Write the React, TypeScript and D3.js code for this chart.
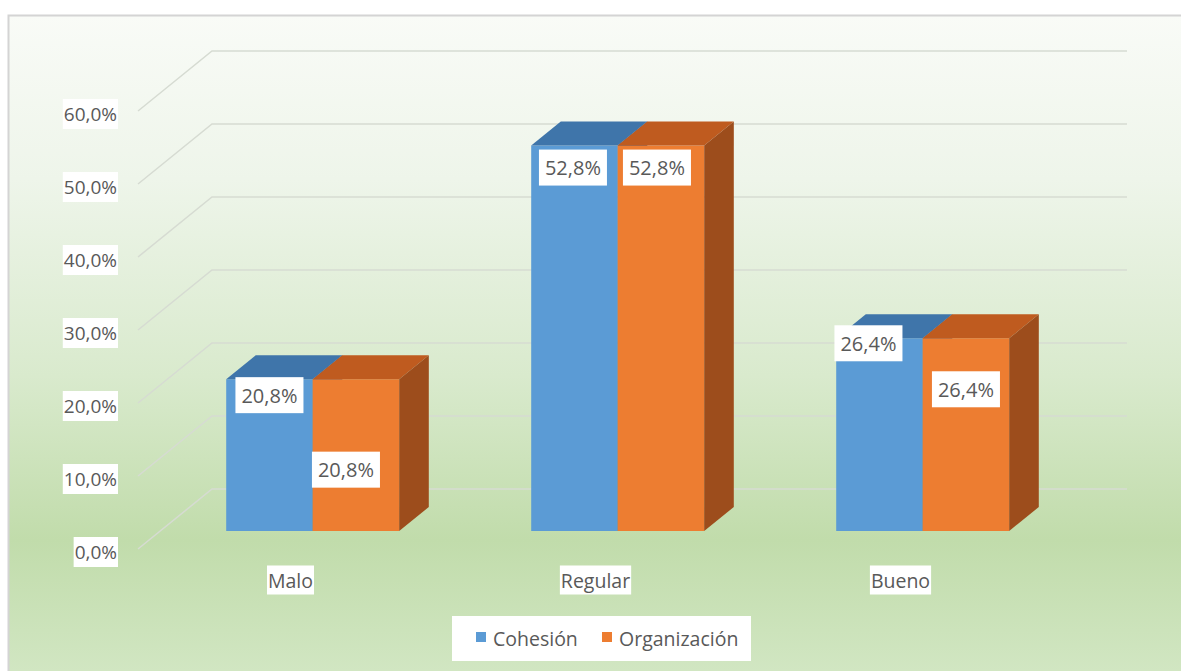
import React, { useEffect, useRef } from "react";
import * as d3 from "d3";

const categories = ["Malo", "Regular", "Bueno"];
const seriesNames = ["Cohesión", "Organización"];
const cohesion = [0.208, 0.528, 0.264];
const organizacion = [0.208, 0.528, 0.264];
const yTicks = [0, 0.1, 0.2, 0.3, 0.4, 0.5, 0.6];
const valueLabels = [["20,8%", "52,8%", "26,4%"], ["20,8%", "52,8%", "26,4%"]];

// layout constants (label nudges as placed in the original)
const labelNudge = [
  [[0, 16], [-1.5, 22], [-11, 5]],
  [[-10, 90.5], [-4, 22], [0, 51]],
];

const W = 1181;
const H = 671;
const FONT = "'Open Sans', 'Noto Sans', sans-serif";
const TEXT = "#595959";
const colors = {
  front: ["#5B9BD5", "#ED7D31"],
  top: ["#3F75AA", "#BF5B1F"],
  side: ["#36679A", "#9D4D1C"],
};

export default function App() {
  const ref = useRef<SVGSVGElement | null>(null);

  useEffect(() => {
    const svg = d3.select(ref.current);
    svg.selectAll("*").remove();

    const defs = svg.append("defs");
    const grad = defs
      .append("linearGradient")
      .attr("id", "bg")
      .attr("gradientUnits", "userSpaceOnUse")
      .attr("x1", 0).attr("y1", 15).attr("x2", 0).attr("y2", 671);
    [
      [0, "#f9fbf7"],
      [0.25, "#eef5ea"],
      [0.55, "#d9eacd"],
      [0.8, "#c1dcab"],
      [1, "#d1e6c2"],
    ].forEach(([o, c]) => grad.append("stop").attr("offset", o as number).attr("stop-color", c as string));

    svg.append("rect")
      .attr("x", 8.5).attr("y", 15.5).attr("width", W + 20).attr("height", H + 20)
      .attr("fill", "url(#bg)").attr("stroke", "#d4d4d4").attr("stroke-width", 2);

    // 3D projection
    const DX = 74, DY = -60;
    const x = d3.scaleBand<string>().domain(categories).range([138, 1053]).paddingInner(0).paddingOuter(0);
    const xs = d3.scaleBand<string>().domain(seriesNames).range([0, x.bandwidth()]).paddingInner(0).paddingOuter(0.763);
    const y = d3.scaleLinear().domain([0, 0.6]).range([549, 111]);
    const P = (px: number, v: number, t: number): [number, number] => [px + DX * t, y(v) + DY * t];
    const [x0, x1] = x.range();

    // gridlines: left wall + back wall
    const grid = svg.append("g");
    yTicks.forEach((v) => {
      const a = P(x0, v, 0), b = P(x0, v, 1), c = P(x1, v, 1);
      grid.append("path")
        .attr("d", `M${a[0]},${a[1]}L${b[0]},${b[1]}L${c[0]},${c[1]}`)
        .attr("fill", "none").attr("stroke", "#d6dbd2").attr("stroke-width", 1.5);
    });

    // label with white box helper
    const boxedText = (g: any, tx: number, ty: number, str: string, size: number, anchor: string, padX: number, boxH: number) => {
      const grp = g.append("g");
      const rect = grp.append("rect").attr("fill", "#ffffff");
      const t = grp.append("text")
        .attr("x", tx).attr("y", ty)
        .attr("text-anchor", anchor)
        .attr("dominant-baseline", "central")
        .attr("font-family", FONT).attr("font-size", size).attr("fill", TEXT)
        .text(str);
      const bb = (t.node() as SVGTextElement).getBBox();
      rect.attr("x", bb.x - padX).attr("y", ty - boxH / 2).attr("width", bb.width + 2 * padX).attr("height", boxH);
    };

    // y axis labels
    const axisG = svg.append("g");
    yTicks.forEach((v) => {
      const [px, py] = P(x0, v, 0);
      boxedText(axisG, 117, py + 3, d3.format(".1f")(v * 100).replace(".", ",") + "%", 19, "end", 1, 30);
    });

    // bars
    const values = [cohesion, organizacion];
    const t0 = 0.3, t1 = 0.7;
    const barsG = svg.append("g");
    const poly = (pts: [number, number][], fill: string) =>
      barsG.append("path").attr("d", "M" + pts.map((p) => p.join(",")).join("L") + "Z").attr("fill", fill);

    categories.forEach((cat, ci) => {
      seriesNames.forEach((s, si) => {
        const v = values[si][ci];
        const xl = (x(cat) as number) + (xs(s) as number);
        const xr = xl + xs.bandwidth();
        poly([P(xl, 0, t0), P(xl, v, t0), P(xr, v, t0), P(xr, 0, t0)], colors.front[si]);
        poly([P(xl, v, t0), P(xl, v, t1), P(xr, v, t1), P(xr, v, t0)], colors.top[si]);
        poly([P(xr, 0, t0), P(xr, v, t0), P(xr, v, t1), P(xr, 0, t1)], colors.side[si]);
      });
    });

    // data labels
    const lblG = svg.append("g");
    categories.forEach((cat, ci) => {
      seriesNames.forEach((s, si) => {
        const v = values[si][ci];
        const xl = (x(cat) as number) + (xs(s) as number);
        const [fx, fy] = P(xl + xs.bandwidth() / 2, v, t0);
        const [nx, ny] = labelNudge[si][ci];
        boxedText(lblG, fx + nx, fy + ny, valueLabels[si][ci], 20, "middle", 6, 36);
      });
    });

    // category labels
    const catG = svg.append("g");
    categories.forEach((cat) => {
      const cx = (x(cat) as number) + x.bandwidth() / 2;
      boxedText(catG, cx, 580, cat, 19.5, "middle", 1, 29);
    });

    // legend
    const lg = svg.append("g");
    lg.append("rect").attr("x", 452).attr("y", 616).attr("width", 299).attr("height", 45).attr("fill", "#ffffff");
    const itemX = [476, 602];
    seriesNames.forEach((s, si) => {
      lg.append("rect").attr("x", itemX[si]).attr("y", 632).attr("width", 10).attr("height", 10).attr("fill", colors.front[si]);
      lg.append("text")
        .attr("x", itemX[si] + 17).attr("y", 638)
        .attr("dominant-baseline", "central")
        .attr("font-family", FONT).attr("font-size", 19.5).attr("fill", TEXT)
        .text(s);
    });
  }, []);

  return (
    <svg
      ref={ref}
      width={W}
      height={H}
      style={{ position: "absolute", left: 0, top: 0, display: "block", background: "#ffffff" }}
    />
  );
}
